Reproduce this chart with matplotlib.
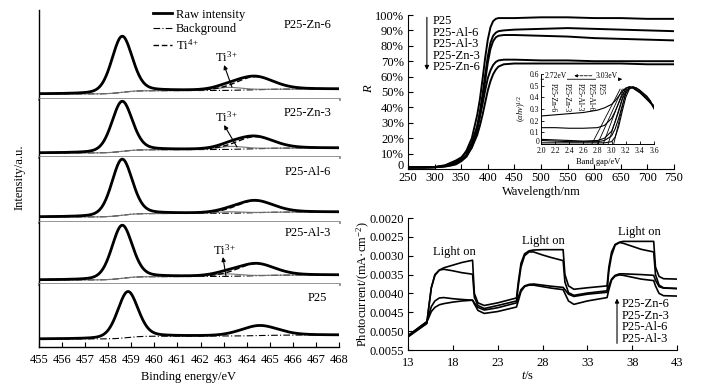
import numpy as np
import matplotlib
matplotlib.use("Agg")
import matplotlib.pyplot as plt
from matplotlib.lines import Line2D
from matplotlib.transforms import offset_copy

plt.rcParams['font.family'] = ['Liberation Serif', 'DejaVu Serif']
plt.rcParams['mathtext.fontset'] = 'custom'
plt.rcParams['mathtext.rm'] = 'Liberation Serif'
plt.rcParams['mathtext.it'] = 'Liberation Serif:italic'
plt.rcParams['font.size'] = 9

# ---------------- XPS (Ti 2p) data ----------------
xps_samples = ["P25-Zn-6", "P25-Zn-3", "P25-Al-6", "P25-Al-3", "P25"]
xps_bg_low = [5, 4, 5, 4, 8]
xps_bg_high = [10, 9, 10, 9, 12]
ti4_p32_center = [458.6, 458.6, 458.6, 458.6, 458.85]
ti4_p32_height = [56, 50, 56, 53, 46]
ti4_p32_fwhm = [1.05, 1.05, 1.05, 1.05, 1.05]
ti4_p12_center = [464.35, 464.35, 464.35, 464.4, 464.55]
ti4_p12_height = [13, 12, 12, 12, 10]
ti4_p12_fwhm = [1.9, 1.9, 1.9, 1.9, 1.9]
ti3_center = [463.2, 463.3, 463.2, 463.1, 463.2]
ti3_height = [3.0, 3.0, 1.5, 2.5, 0.0]
ti3_fwhm = [1.4, 1.4, 1.4, 1.4, 1.4]
xps_ticks = list(range(455, 469))

# ---------------- UV-vis reflectance ----------------
uv_labels = ["P25", "P25-Al-6", "P25-Al-3", "P25-Zn-3", "P25-Zn-6"]
wavelength = [250, 280, 300, 320, 330, 340, 350, 360, 370, 380, 385, 390, 395,
              400, 405, 410, 415, 420, 430, 450, 500, 550, 600, 650, 700, 750]
R_p25 = [1.0, 1.2, 1.3, 2.0, 3.0, 4.5, 7, 12, 20, 35, 45, 58, 72, 84, 92, 96,
         97.5, 98, 98, 98, 98.5, 98.5, 98, 98, 97.5, 97.5]
R_al6 = [1.0, 1.0, 1.2, 1.8, 2.5, 3.5, 5.5, 9, 16, 28, 37, 48, 61, 73, 82, 86.5,
         88.5, 89.5, 90, 90.5, 91, 91.5, 91, 90.5, 90, 89.5]
R_al3 = [1.0, 1.0, 1.1, 1.6, 2.2, 3.0, 5, 8, 14, 25, 34, 45, 57, 69, 78, 83,
         85.5, 86.5, 87, 87, 86.5, 86, 85, 84.5, 84, 83.5]
R_zn3 = [1.0, 1.0, 1.2, 2.5, 4.0, 5.5, 7.5, 11, 17, 27, 34, 42, 51, 59, 64, 67.5,
         69.5, 70.5, 71, 71, 70.5, 70.5, 70, 70, 70, 70]
R_zn6 = [1.0, 1.0, 1.1, 2.0, 3.0, 4.5, 6, 9, 14, 22, 28, 35, 43, 51, 57, 61.5,
         64.5, 66.5, 68, 68.5, 68.5, 68.5, 68.5, 68.5, 68, 68]

# ---------------- Tauc inset ----------------
tauc_labels = ["P25-Zn-6", "P25-Zn-3", "P25-Al-3", "P25-Al-6", "P25"]
energy = [2.0, 2.2, 2.4, 2.6, 2.8, 2.9, 3.0, 3.05, 3.1, 3.15, 3.2, 3.25, 3.3,
          3.35, 3.4, 3.5, 3.55, 3.6]
tauc_zn6 = [0.24, 0.25, 0.26, 0.27, 0.29, 0.31, 0.34, 0.37, 0.41, 0.45, 0.48,
            0.49, 0.49, 0.48, 0.46, 0.41, 0.37, 0.31]
tauc_zn3 = [0.14, 0.14, 0.135, 0.135, 0.14, 0.16, 0.22, 0.28, 0.35, 0.42, 0.47,
            0.49, 0.48, 0.46, 0.44, 0.39, 0.36, 0.32]
tauc_al3 = [0.04, 0.035, 0.03, 0.025, 0.03, 0.05, 0.11, 0.19, 0.28, 0.38, 0.45,
            0.48, 0.48, 0.46, 0.44, 0.38, 0.35, 0.33]
tauc_al6 = [0.03, 0.025, 0.02, 0.02, 0.02, 0.03, 0.07, 0.13, 0.22, 0.33, 0.43,
            0.48, 0.485, 0.47, 0.45, 0.39, 0.35, 0.31]
tauc_p25 = [0.01, 0.01, 0.01, 0.01, 0.01, 0.01, 0.02, 0.06, 0.15, 0.28, 0.40,
            0.47, 0.49, 0.48, 0.46, 0.40, 0.36, 0.30]
band_gap = [2.72, 2.80, 2.88, 2.95, 3.03]
tangent_top_E = [3.12, 3.15, 3.17, 3.19, 3.21]
tangent_top_y = [0.47, 0.47, 0.47, 0.47, 0.47]
inset_label_E = [2.17, 2.37, 2.55, 2.71, 2.84]

# ---------------- Photocurrent ----------------
pc_labels = ["P25-Zn-6", "P25-Zn-3", "P25-Al-6", "P25-Al-3"]
time_s = [13, 15.1, 15.3, 15.6, 16.0, 16.5, 17, 18, 19, 20.2, 20.4, 20.8, 21.5,
          23, 25.1, 25.3, 25.6, 26.0, 26.5, 27, 28, 29, 30.3, 30.5, 30.9, 31.5,
          33, 35.2, 35.4, 35.7, 36.1, 36.6, 37, 38, 39, 40.4, 40.6, 41.0, 41.5, 43]
pc_zn6 = [0.00515, 0.00480, 0.00440, 0.00385, 0.00350, 0.00338, 0.00332, 0.00325,
          0.00318, 0.00312, 0.00400, 0.00425, 0.00432, 0.00425, 0.00412, 0.00370,
          0.00320, 0.00295, 0.00287, 0.00285, 0.00284, 0.00284, 0.00284, 0.00350,
          0.00380, 0.00389, 0.00385, 0.00380, 0.00330, 0.00290, 0.00270, 0.00264,
          0.00262, 0.00262, 0.00262, 0.00262, 0.00330, 0.00355, 0.00361, 0.00362]
pc_zn3 = [0.00515, 0.00478, 0.00440, 0.00385, 0.00352, 0.00338, 0.00336, 0.00340,
          0.00345, 0.00349, 0.00410, 0.00432, 0.00440, 0.00432, 0.00420, 0.00380,
          0.00330, 0.00300, 0.00290, 0.00290, 0.00298, 0.00305, 0.00313, 0.00370,
          0.00398, 0.00405, 0.00399, 0.00393, 0.00340, 0.00300, 0.00272, 0.00265,
          0.00267, 0.00275, 0.00283, 0.00290, 0.00350, 0.00378, 0.00385, 0.00387]
pc_al6 = [0.00512, 0.00475, 0.00460, 0.00435, 0.00420, 0.00412, 0.00411, 0.00414,
          0.00416, 0.00418, 0.00425, 0.00437, 0.00444, 0.00438, 0.00425, 0.00410,
          0.00390, 0.00380, 0.00376, 0.00375, 0.00378, 0.00381, 0.00384, 0.00390,
          0.00402, 0.00408, 0.00402, 0.00397, 0.00380, 0.00362, 0.00352, 0.00348,
          0.00348, 0.00349, 0.00350, 0.00352, 0.00365, 0.00382, 0.00386, 0.00387]
pc_al3 = [0.00512, 0.00475, 0.00465, 0.00448, 0.00437, 0.00430, 0.00427, 0.00423,
          0.00420, 0.00418, 0.00428, 0.00445, 0.00453, 0.00448, 0.00436, 0.00420,
          0.00395, 0.00382, 0.00378, 0.00378, 0.00382, 0.00386, 0.00390, 0.00400,
          0.00420, 0.00429, 0.00420, 0.00411, 0.00390, 0.00365, 0.00354, 0.00351,
          0.00352, 0.00357, 0.00362, 0.00366, 0.00380, 0.00400, 0.00406, 0.00407]
light_on_t = [18.2, 28.1, 38.8]
light_on_y = [0.0029, 0.00262, 0.00237]
pc_yticks = [0.0020, 0.0025, 0.0030, 0.0035, 0.0040, 0.0045, 0.0050, 0.0055]
pc_xticks = [13, 18, 23, 28, 33, 38, 43]

W, H = 701, 390
fig = plt.figure(figsize=(W / 100, H / 100), dpi=100)


def px_axes(x0, y0, x1, y1):
    return fig.add_axes([x0 / W, 1 - y1 / H, (x1 - x0) / W, (y1 - y0) / H])


def style_ticks(ax, size=9, length=3.5, pad=4):
    ax.tick_params(direction='in', length=length, width=0.8, labelsize=size,
                   pad=pad, top=False, right=False)


def pv(x, c, h, w, eta=0.25):
    g = np.exp(-4 * np.log(2) * ((x - c) / w) ** 2)
    l = 1.0 / (1 + 4 * ((x - c) / w) ** 2)
    return h * (eta * l + (1 - eta) * g)


# ================= Left: XPS panels =================
panel_px = [(10, 99), (99, 157), (157, 222), (222, 284), (284, 347)]
label_pos = [(0.897, 0.83), (0.897, 0.76), (0.897, 0.77), (0.897, 0.82), (0.927, 0.78)]
ti3_ann = {0: ((463.15, 42), (463.02, 34), (463.36, 12)),
           1: ((463.15, 40), (463.02, 32), (463.58, 10)),
           3: ((463.06, 34), (462.97, 27), (463.10, 8))}
be = np.linspace(455, 468, 700)
xps_axes = []
for i, (top, bot) in enumerate(panel_px):
    ax = px_axes(39, top, 339, bot)
    xps_axes.append(ax)
    p32 = pv(be, ti4_p32_center[i], ti4_p32_height[i], ti4_p32_fwhm[i])
    p12 = pv(be, ti4_p12_center[i], ti4_p12_height[i], ti4_p12_fwhm[i])
    t3 = pv(be, ti3_center[i], ti3_height[i], ti3_fwhm[i])
    sig = p32 + p12 + t3
    cum = np.concatenate([[0], np.cumsum((sig[1:] + sig[:-1]) / 2 * np.diff(be))])
    bg = xps_bg_low[i] + (xps_bg_high[i] - xps_bg_low[i]) * cum / cum[-1]
    ax.plot(be, bg, color='black', lw=0.8, ls=(0, (6, 2, 1, 2)))
    if ti3_height[i] > 0:
        ax.plot(be, bg + t3, color='0.45', lw=0.8)
    ax.plot(be, bg + sig, color='black', lw=2.0)
    ax.plot(be, bg + p32 + p12, color='black', lw=1.0, ls=(0, (4, 2)))
    ax.set_xlim(455, 468)
    ax.set_ylim(0, bot - top)
    ax.set_yticks([])
    for s in ['top', 'right']:
        ax.spines[s].set_visible(False)
    ax.spines['left'].set_linewidth(1.0)
    ax.text(label_pos[i][0], label_pos[i][1], xps_samples[i], transform=ax.transAxes,
            ha='center', va='center', fontsize=9)
    if i in ti3_ann:
        (tx, ty), head, tail = ti3_ann[i]
        ax.text(tx, ty, 'Ti$^{3+}$', ha='center', va='center', fontsize=9)
        ax.annotate('', xy=head, xytext=tail,
                    arrowprops=dict(arrowstyle='-|>', color='black', lw=0.8,
                                    mutation_scale=6, shrinkA=0, shrinkB=0))
    if i < 4:
        ax.spines['bottom'].set_color('0.55')
        ax.spines['bottom'].set_linewidth(2.0)
        ax.set_xticks([])
    else:
        ax.set_xticks(xps_ticks)
        style_ticks(ax, pad=5)
        ax.spines['bottom'].set_linewidth(1.0)

leg_handles = [Line2D([], [], color='black', lw=2.0),
               Line2D([], [], color='black', lw=0.8, ls=(0, (6, 2, 1, 2))),
               Line2D([], [], color='black', lw=1.0, ls=(0, (4, 2)))]
xps_axes[0].legend(leg_handles, ['Raw intensity', 'Background', 'Ti$^{4+}$'],
                   loc='upper left', bbox_to_anchor=(0.36, 1.085), frameon=False,
                   fontsize=9, handlelength=1.5, handletextpad=0.3,
                   labelspacing=0.2, borderpad=0)
fig.text(20 / W, 1 - 177 / H, 'Intensity/a.u.', rotation=90, ha='center',
         va='center', fontsize=9)
fig.text(189 / W, 1 - 377 / H, 'Binding energy/eV', ha='center', va='center',
         fontsize=9)

# ================= Top right: reflectance =================
ax2 = px_axes(408, 15, 674, 169)
for R in [R_p25, R_al6, R_al3, R_zn3, R_zn6]:
    ax2.plot(wavelength, R, color='black', lw=1.4)
ax2.set_xlim(250, 750)
ax2.set_ylim(0, 100)
ax2.set_xticks(list(range(250, 751, 50)))
yt = list(range(0, 101, 10))
ax2.set_yticks(yt)
ax2.set_yticklabels([''] + [f'{v}%' for v in yt[1:]])
for s in ['top', 'right']:
    ax2.spines[s].set_visible(False)
style_ticks(ax2, pad=3)
ax2.tick_params(axis='x', pad=2.5)
# "0" label, nudged up slightly so it does not touch the "250" label
ax2.text(0, 0, '0', fontsize=9, ha='right', va='center',
         transform=offset_copy(ax2.get_yaxis_transform(), fig=fig, x=-4, y=3,
                               units='dots'))
uv_text_y = [0.961, 0.886, 0.812, 0.737, 0.662]
for lab, yy in zip(uv_labels, uv_text_y):
    ax2.text(0.094, yy, lab, transform=ax2.transAxes, ha='left', va='center',
             fontsize=9)
ax2.annotate('', xy=(0.071, 0.643), xytext=(0.071, 0.985), xycoords='axes fraction',
             arrowprops=dict(arrowstyle='-|>', color='black', lw=0.8,
                             mutation_scale=6, shrinkA=0, shrinkB=0))
fig.text(369 / W, 1 - 88 / H, '$R$', rotation=90, ha='center', va='center',
         fontsize=9)
fig.text(541 / W, 1 - 192 / H, 'Wavelength/nm', ha='center', va='center',
         fontsize=9)

# ---- inset ----
axi = px_axes(541, 74, 654, 144)
for T in [tauc_zn6, tauc_zn3, tauc_al3, tauc_al6, tauc_p25]:
    axi.plot(energy, T, color='black', lw=0.8)
for eg, te, ty in zip(band_gap, tangent_top_E, tangent_top_y):
    axi.plot([eg, te], [0, ty], color='black', lw=0.6)
axi.set_xlim(2.0, 3.6)
axi.set_ylim(0, 0.6)
axi.set_xticks([2.0, 2.2, 2.4, 2.6, 2.8, 3.0, 3.2, 3.4, 3.6])
axi.set_yticks([0, 0.1, 0.2, 0.3, 0.4, 0.5, 0.6])
axi.set_yticklabels(['', '0.1', '0.2', '0.3', '0.4', '0.5', '0.6'])
for s in ['top', 'right']:
    axi.spines[s].set_visible(False)
for s in ['left', 'bottom']:
    axi.spines[s].set_linewidth(0.7)
axi.tick_params(direction='in', length=2, width=0.6, labelsize=5.5, pad=1.5)
axi.tick_params(axis='x', pad=2)
axi.text(0, 0, '0', fontsize=5.5, ha='right', va='center',
         transform=offset_copy(axi.get_yaxis_transform(), fig=fig, x=-2, y=2.5,
                               units='dots'))
for lab, e in zip(tauc_labels, inset_label_E):
    axi.text(e, 0.525, lab, rotation=270, ha='center', va='top', fontsize=5.5)
axi.annotate('', xy=(3.15, 0.555), xytext=(2.0, 0.555),
             arrowprops=dict(arrowstyle='-|>', color='black', lw=0.6,
                             mutation_scale=5, shrinkA=0, shrinkB=0))
axi.text(2.05, 0.585, '2.72eV', ha='left', va='center', fontsize=5.5,
         bbox=dict(facecolor='white', edgecolor='none', pad=0.2))
axi.text(3.09, 0.585, '3.03eV', ha='right', va='center', fontsize=5.5,
         bbox=dict(facecolor='white', edgecolor='none', pad=0.2))
axi.annotate('', xy=(2.47, 0.585), xytext=(2.72, 0.585),
             arrowprops=dict(arrowstyle='-|>', color='black', lw=0.6, ls='--',
                             mutation_scale=4, shrinkA=0, shrinkB=0))
fig.text(522 / W, 1 - 108 / H, r'$(\alpha h\nu)^{1/2}$', rotation=90, ha='center',
         va='center', fontsize=6)
fig.text(598 / W, 1 - 162 / H, 'Band gap/eV', ha='center', va='center', fontsize=6)

# ================= Bottom right: photocurrent =================
ax3 = px_axes(408, 218, 677, 350)
for P in [pc_zn6, pc_zn3, pc_al6, pc_al3]:
    ax3.plot(time_s, P, color='black', lw=1.2)
ax3.set_xlim(13, 43)
ax3.set_ylim(0.0055, 0.0020)
ax3.set_xticks(pc_xticks)
ax3.set_yticks(pc_yticks)
ax3.set_yticklabels([f'{v:.4f}' for v in pc_yticks])
for s in ['top', 'right']:
    ax3.spines[s].set_visible(False)
style_ticks(ax3, pad=3)
ax3.tick_params(axis='x', pad=5)
for tt, yy in zip(light_on_t, light_on_y):
    ax3.text(tt, yy, 'Light on', ha='center', va='center', fontsize=9)
pc_text_y = [0.348, 0.258, 0.174, 0.083]
for lab, yy in zip(pc_labels, pc_text_y):
    ax3.text(0.796, yy, lab, transform=ax3.transAxes, ha='left', va='center',
             fontsize=9)
ax3.annotate('', xy=(0.777, 0.39), xytext=(0.777, 0.05), xycoords='axes fraction',
             arrowprops=dict(arrowstyle='-|>', color='black', lw=0.8,
                             mutation_scale=6, shrinkA=0, shrinkB=0))
fig.text(363 / W, 1 - 284 / H, 'Photocurrent/(mA·cm$^{-2}$)', rotation=90,
         ha='center', va='center', fontsize=9)
fig.text(528 / W, 1 - 376 / H, '$t$/s', ha='center', va='center', fontsize=9)

fig.savefig('out.png', dpi=100)
